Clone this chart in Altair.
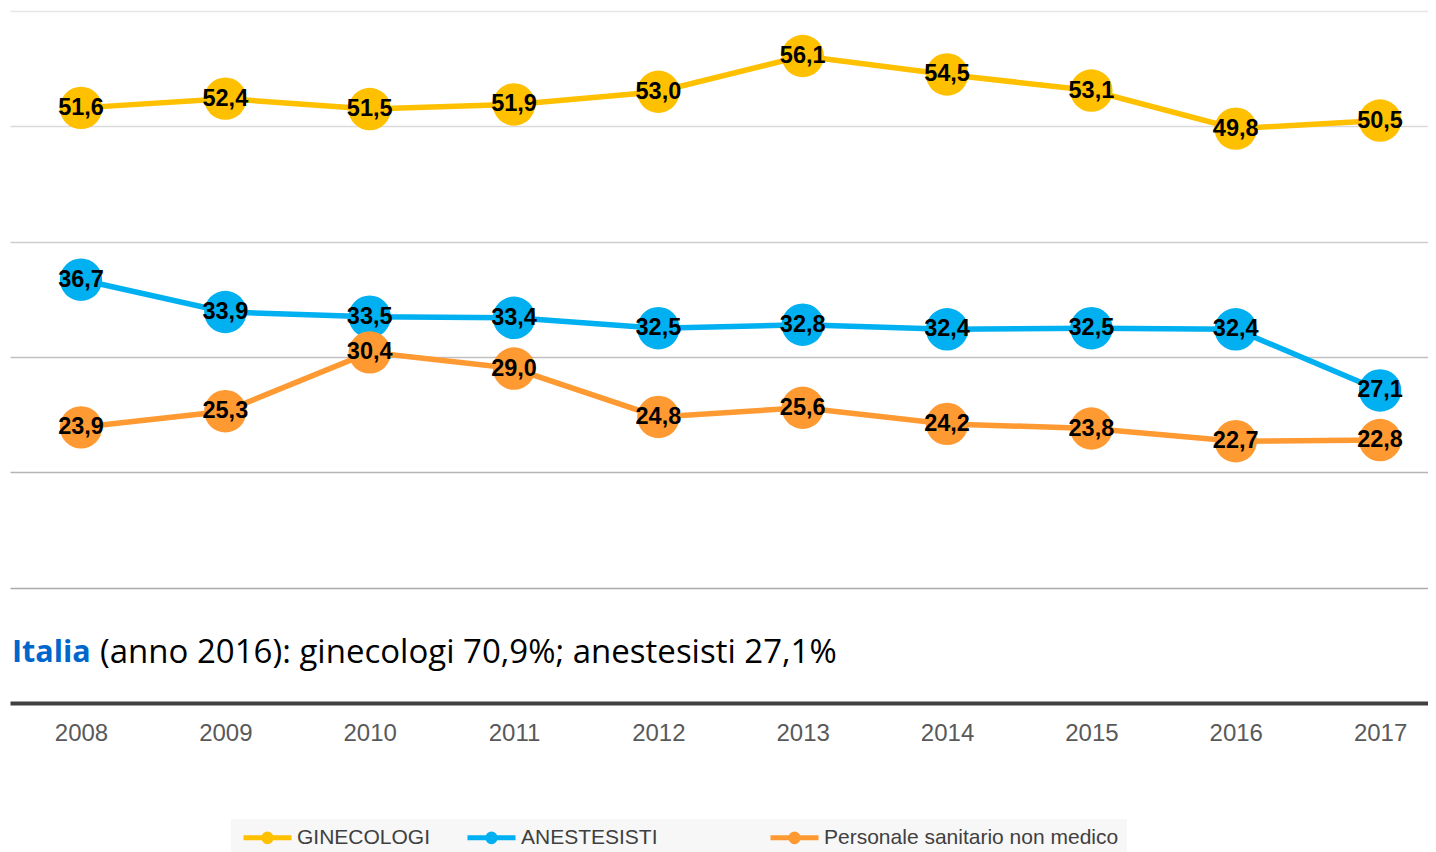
import altair as alt
import pandas as pd

years = ["2008", "2009", "2010", "2011", "2012", "2013", "2014", "2015", "2016", "2017"]
series_names = ["GINECOLOGI", "ANESTESISTI", "Personale sanitario non medico"]
ginecologi = [51.6, 52.4, 51.5, 51.9, 53.0, 56.1, 54.5, 53.1, 49.8, 50.5]
anestesisti = [36.7, 33.9, 33.5, 33.4, 32.5, 32.8, 32.4, 32.5, 32.4, 27.1]
personale = [23.9, 25.3, 30.4, 29.0, 24.8, 25.6, 24.2, 23.8, 22.7, 22.8]
colors = ["#FFC000", "#00B0F0", "#FF9A33"]
title_bold = "Italia"
title_rest = "(anno 2016): ginecologi 70,9%; anestesisti 27,1%"

rows = []
for s_i, (name, vals) in enumerate(zip(series_names, [ginecologi, anestesisti, personale])):
    for y, v in zip(years, vals):
        rows.append({"anno": y, "serie": name, "valore": v, "ordine": s_i,
                     "etichetta": f"{v:.1f}".replace(".", ",")})
df = pd.DataFrame(rows)

color_scale = alt.Scale(domain=series_names, range=colors)
x_enc = alt.X("anno:O", scale=alt.Scale(type="point", padding=0.412, align=0.597),
              axis=alt.Axis(title=None, labelFont="Liberation Sans", labelFontSize=24,
                            labelColor="#595959", labelAngle=0, ticks=False, tickSize=0,
                            labelPadding=18, domainColor="#404040", domainWidth=4,
                            grid=False))
y_enc = alt.Y("valore:Q", scale=alt.Scale(domain=[0, 60], nice=False, zero=True),
              axis=alt.Axis(title=None, labels=False, ticks=False, domain=False,
                            values=[10, 20, 30, 40, 50, 60], gridWidth=1.3,
                            gridColor={"condition": [
                                {"test": "datum.value >= 60", "value": "#e6e6e6"},
                                {"test": "datum.value >= 50", "value": "#dadada"},
                                {"test": "datum.value >= 40", "value": "#cdcdcd"},
                                {"test": "datum.value >= 30", "value": "#c0c0c0"},
                                {"test": "datum.value >= 20", "value": "#b4b4b4"}],
                                "value": "#aaaaaa"}))

# legend symbol: a 48px line with a 12px dot, drawn in a 12px symbol box
legend_symbol = ("M-1,0L7,0"
                 "M2.78,0A0.22,0.22 0 1,0 3.22,0A0.22,0.22 0 1,0 2.78,0"
                 "M2.37,0A0.63,0.63 0 1,0 3.63,0A0.63,0.63 0 1,0 2.37,0")

pad = " " * 13 + "\u200b"
base = alt.Chart(df)

lines = base.mark_line(strokeWidth=5.5).encode(
    x=x_enc, y=y_enc,
    color=alt.Color("serie:N", scale=color_scale, sort=series_names,
                    legend=alt.Legend(title=None, orient="none", direction="horizontal",
                                      legendX=221, legendY=808,
                                      symbolType=legend_symbol, symbolSize=144,
                                      symbolStrokeWidth=5, labelFont="Liberation Sans",
                                      labelFontSize=21, labelColor="#404040",
                                      labelOffset=37, columnPadding=26,
                                      labelExpr=f"datum.label == 'ANESTESISTI' ? datum.label + '{pad}' : datum.label",
                                      fillColor="#f7f7f7", padding=8,
                                      labelLimit=700)),
    detail="serie:N",
)

points = base.mark_circle(size=1800, opacity=1).encode(
    x=x_enc, y=y_enc,
    color=alt.Color("serie:N", scale=color_scale, legend=None),
    order="ordine:Q",
)

labels = base.mark_text(font="Liberation Sans", fontWeight="bold", fontSize=23.5,
                        color="black", baseline="middle", align="center").encode(
    x=x_enc, y=y_enc, text="etichetta:N",
)

t1 = alt.Chart(pd.DataFrame({"t": [title_bold]})).mark_text(
    font="Open Sans", fontWeight="bold", fontSize=30.5, color="#0066CC",
    align="left", baseline="middle").encode(
    text="t:N", x=alt.value(2), y=alt.value(642))

t2 = alt.Chart(pd.DataFrame({"t": [title_rest]})).mark_text(
    font="Open Sans", fontSize=33, color="black",
    align="left", baseline="middle").encode(
    text="t:N", x=alt.value(90), y=alt.value(642))

chart = alt.layer(lines, points, labels, t1, t2).properties(
    width=1418, height=692,
    autosize=alt.AutoSizeParams(type="none"),
    padding={"left": 2, "top": 3, "right": 0, "bottom": 149},
    background="white",
).configure_view(stroke=None)

chart.save("out.html", embed_options={"renderer": "svg", "actions": False})
